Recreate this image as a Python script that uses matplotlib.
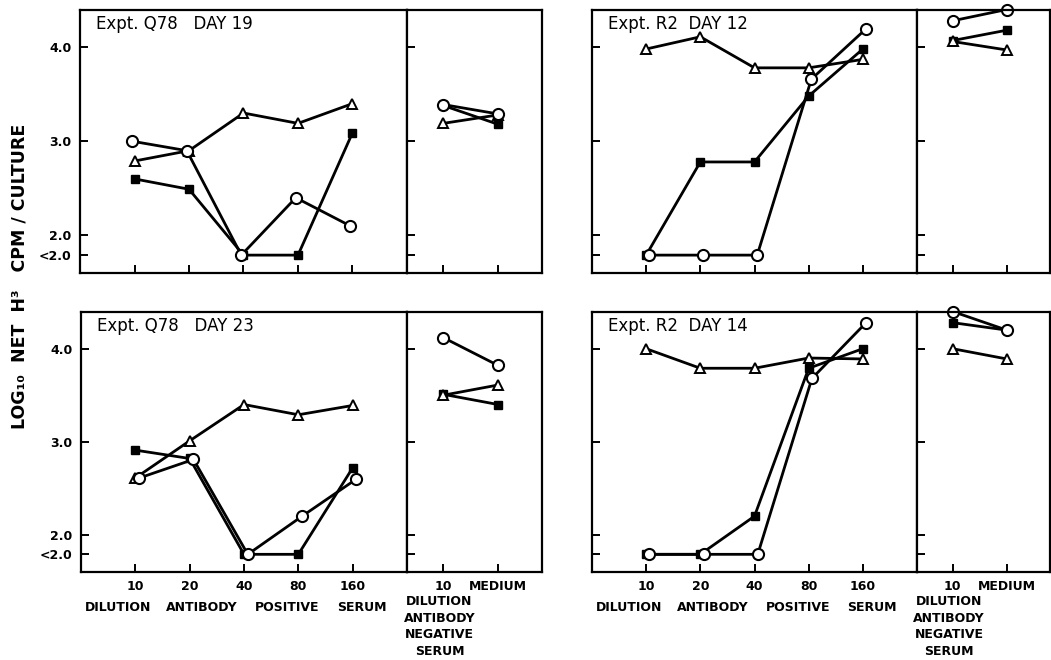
import matplotlib
matplotlib.use("Agg")
import matplotlib.pyplot as plt

plt.rcParams['font.family'] = ['DejaVu Sans']

# value used for the "<2.0" row
LOW = 1.79

dilutions = ['10', '20', '40', '80', '160']
neg_labels = ['10', 'MEDIUM']
ytick_vals = [LOW, 2.0, 3.0, 4.0]
ytick_labels = ['<2.0', '2.0', '3.0', '4.0']

titles = ['Expt. Q78   DAY 19', 'Expt. R2  DAY 12',
          'Expt. Q78   DAY 23', 'Expt. R2  DAY 14']

# Expt. Q78 day 19
d19_circ = [3.0, 2.9, LOW, 2.4, 2.1]
d19_tri = [2.79, 2.9, 3.3, 3.19, 3.4]
d19_sq = [2.6, 2.49, LOW, LOW, 3.09]
d19_neg_circ = [3.39, 3.29]
d19_neg_tri = [3.19, 3.28]
d19_neg_sq = [3.38, 3.18]

# Expt. R2 day 12
d12_circ = [LOW, LOW, LOW, 3.66, 4.19]
d12_tri = [3.98, 4.11, 3.78, 3.78, 3.87]
d12_sq = [LOW, 2.78, 2.78, 3.48, 3.98]
d12_neg_circ = [4.28, 4.40]
d12_neg_tri = [4.06, 3.97]
d12_neg_sq = [4.07, 4.18]

# Expt. Q78 day 23
d23_circ = [2.61, 2.81, LOW, 2.2, 2.6]
d23_tri = [2.61, 3.01, 3.4, 3.29, 3.39]
d23_sq = [2.91, 2.82, LOW, LOW, 2.72]
d23_neg_circ = [4.12, 3.82]
d23_neg_tri = [3.5, 3.61]
d23_neg_sq = [3.51, 3.4]

# Expt. R2 day 14
d14_circ = [LOW, LOW, LOW, 3.68, 4.28]
d14_tri = [4.0, 3.79, 3.79, 3.9, 3.89]
d14_sq = [LOW, LOW, 2.2, 3.79, 4.0]
d14_neg_circ = [4.40, 4.2]
d14_neg_tri = [4.0, 3.89]
d14_neg_sq = [4.28, 4.2]

panels = [
    (d19_circ, d19_tri, d19_sq, d19_neg_circ, d19_neg_tri, d19_neg_sq),
    (d12_circ, d12_tri, d12_sq, d12_neg_circ, d12_neg_tri, d12_neg_sq),
    (d23_circ, d23_tri, d23_sq, d23_neg_circ, d23_neg_tri, d23_neg_sq),
    (d14_circ, d14_tri, d14_sq, d14_neg_circ, d14_neg_tri, d14_neg_sq),
]
# small sideways shift of the open circles, as in the drawing
circ_shift = [-0.04, 0.05, 0.07, 0.06]

W, H = 1051, 660
fig = plt.figure(figsize=(W / 100, H / 100), dpi=100)


def rect(x0, x1, ytop, ybot):
    return [x0 / W, 1 - ybot / H, (x1 - x0) / W, (ybot - ytop) / H]


boxes = [
    ((80, 407, 542), (9.5, 273)),
    ((592, 917, 1050), (9.5, 273)),
    ((81, 407, 542), (311.5, 572)),
    ((592, 917, 1050), (311.5, 572)),
]

line_kw = dict(color='black', lw=2.0, clip_on=False)


def draw(ax, xs, circ, tri, sq):
    ax.plot(xs, sq, marker='s', ms=6, mfc='black', mec='black', **line_kw)
    ax.plot(xs, tri, marker='^', ms=7, mfc='white', mec='black', mew=1.4, **line_kw)
    ax.plot(circ[0], circ[1], marker='o', ms=8, mfc='white',
            mec='black', mew=1.5, **line_kw)


for i, ((x0, x1, x2), (yt, yb)) in enumerate(boxes):
    circ, tri, sq, ncirc, ntri, nsq = panels[i]
    ax = fig.add_axes(rect(x0, x1, yt, yb))
    axn = fig.add_axes(rect(x1, x2, yt, yb))

    xs = list(range(len(dilutions)))
    xn = list(range(len(neg_labels)))
    draw(ax, xs, ([x + circ_shift[i] for x in xs], circ), tri, sq)
    draw(axn, xn, (xn, ncirc), ntri, nsq)

    ax.set_xlim(-1, 5)
    axn.set_xlim(-0.66, 1.8)
    for a in (ax, axn):
        a.set_ylim(1.6, 4.4)
        a.set_yticks(ytick_vals)
        a.tick_params(direction='in', length=6, width=1.4,
                      labelsize=9, pad=6)
        for s in a.spines.values():
            s.set_linewidth(1.6)
    ax.set_xticks(xs)
    axn.set_xticks(xn)
    axn.set_yticklabels([])

    if i == 0 or i == 2:
        ax.set_yticklabels(ytick_labels, fontweight='bold')
    else:
        ax.set_yticklabels([])

    if i >= 2:
        ax.set_xticklabels(dilutions, fontweight='bold', fontsize=9)
        axn.set_xticklabels(neg_labels, fontweight='bold', fontsize=9)
        tr = ax.get_xaxis_transform()
        for word, wx in zip(['DILUTION', 'ANTIBODY', 'POSITIVE', 'SERUM'],
                            [-0.32, 1.23, 2.8, 4.17]):
            ax.text(wx, -0.135, word, transform=tr, ha='center', va='center',
                    fontsize=9, fontweight='bold')
        axn.text(-0.07, -0.088, 'DILUTION\nANTIBODY\nNEGATIVE\nSERUM',
                 transform=axn.get_xaxis_transform(), ha='center', va='top',
                 fontsize=9, fontweight='bold', linespacing=1.36)
    else:
        ax.set_xticklabels([])
        axn.set_xticklabels([])

    ax.text(0.05, 0.945, titles[i], transform=ax.transAxes, ha='left',
            va='center', fontsize=12)

fig.text(0.019, 0.581, 'LOG\u2081\u2080  NET  H\u00b3   CPM / CULTURE',
         rotation=90, ha='center', va='center', fontsize=12.5,
         fontweight='bold')

fig.savefig('out.png', dpi=100)
